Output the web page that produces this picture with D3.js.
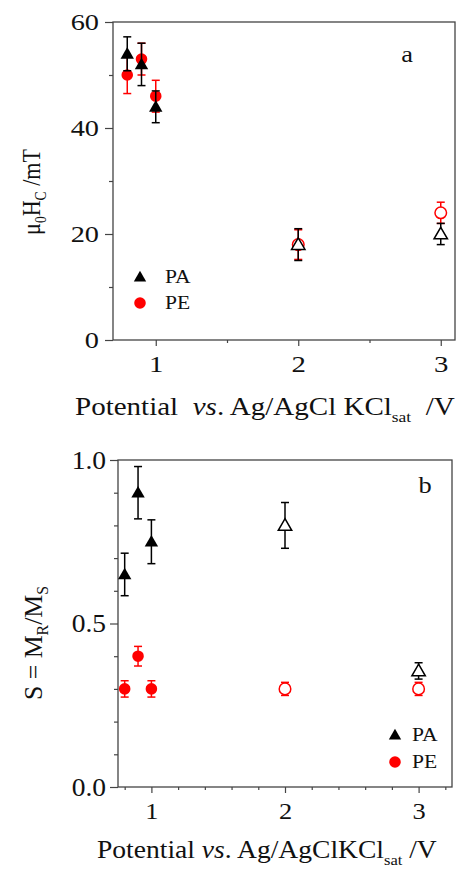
<!DOCTYPE html>
<html>
<head>
<meta charset="utf-8">
<script src="https://cdn.jsdelivr.net/npm/d3@7"></script>
<style>
  body { margin: 0; background: #fff; }
  text { font-family: "Liberation Serif", "DejaVu Serif", serif; fill: #111; white-space: pre; }
</style>
</head>
<body>
<div id="chart"></div>
<script>
// panel a : coercivity
var potA = [0.8, 0.9, 1.0, 2.0, 3.0];
var hcPA = [54, 52, 44, 18, 20];
var hcPAErr = [3.2, 4, 3, 3, 2];
var hcPE = [50, 53, 46, 18, 24];
var hcPEErr = [3.5, 3, 3, 2.8, 2];

// panel b : squareness
var potB = [0.8, 0.9, 1.0, 2.0, 3.0];
var sPA = [0.65, 0.90, 0.75, 0.80, 0.355];
var sPAErr = [0.065, 0.08, 0.067, 0.07, 0.025];
var sPE = [0.30, 0.40, 0.30, 0.30, 0.30];
var sPEErr = [0.025, 0.03, 0.025, 0.02, 0.02];

// open symbols from this potential on
var openFrom = 2.0;

var W = 457, H = 869;
var RED = '#ff0000';
var svg = d3.select('#chart').append('svg')
    .attr('width', W)
    .attr('height', H);

function drawPanel(cfg) {
    var x = d3.scaleLinear().domain(cfg.xDomain).range([cfg.left, cfg.right]);
    var y = d3.scaleLinear().domain(cfg.yDomain).range([cfg.bottom, cfg.top]);
    var g = svg.append('g');

    g.append('rect')
        .attr('x', cfg.left).attr('y', cfg.top)
        .attr('width', cfg.right - cfg.left)
        .attr('height', cfg.bottom - cfg.top)
        .attr('fill', 'none')
        .attr('stroke', '#444')
        .attr('stroke-width', 1.3);

    // minor ticks
    g.append('g')
        .attr('transform', 'translate(0,' + cfg.bottom + ')')
        .call(d3.axisBottom(x).tickValues(cfg.xMinor).tickSize(3).tickFormat(''))
        .call(function(s) { s.select('.domain').remove(); });
    g.append('g')
        .attr('transform', 'translate(' + cfg.left + ',0)')
        .call(d3.axisLeft(y).tickValues(cfg.yMinor).tickSize(4).tickFormat(''))
        .call(function(s) { s.select('.domain').remove(); });

    // major ticks
    var xa = g.append('g')
        .attr('transform', 'translate(0,' + cfg.bottom + ')')
        .call(d3.axisBottom(x).tickValues(cfg.xMajor).tickSize(6).tickFormat(d3.format('d')));
    var ya = g.append('g')
        .attr('transform', 'translate(' + cfg.left + ',0)')
        .call(d3.axisLeft(y).tickValues(cfg.yMajor).tickSize(8).tickFormat(cfg.yFormat));
    xa.select('.domain').remove();
    ya.select('.domain').remove();
    xa.selectAll('text')
        .style('font-size', cfg.xTickFont + 'px').attr('fill', '#111')
        .attr('dy', null)
        .attr('y', cfg.xTickBase - cfg.bottom)
        .attr('transform', 'scale(' + cfg.xTickSx + ',1)');
    ya.selectAll('text')
        .style('font-size', cfg.yTickFont + 'px').attr('fill', '#111')
        .attr('x', -cfg.yTickGap / cfg.yTickSx)
        .attr('transform', 'scale(' + cfg.yTickSx + ',1)');
    g.selectAll('.tick line').attr('stroke', '#444').attr('stroke-width', 1.2);

    function series(xs, ys, errs, color, shape) {
        var data = xs.map(function(v, i) { return { x: v, y: ys[i], e: errs[i] }; });
        var s = g.append('g');
        s.selectAll('line.bar').data(data).enter().append('line')
            .attr('x1', function(d) { return x(d.x); })
            .attr('x2', function(d) { return x(d.x); })
            .attr('y1', function(d) { return y(d.y - d.e); })
            .attr('y2', function(d) { return y(d.y + d.e); })
            .attr('stroke', color).attr('stroke-width', 1.5);
        [-1, 1].forEach(function(sgn) {
            s.selectAll('line.cap' + sgn).data(data).enter().append('line')
                .attr('x1', function(d) { return x(d.x) - 4; })
                .attr('x2', function(d) { return x(d.x) + 4; })
                .attr('y1', function(d) { return y(d.y + sgn * d.e); })
                .attr('y2', function(d) { return y(d.y + sgn * d.e); })
                .attr('stroke', color).attr('stroke-width', 1.5);
        });
        var sym = d3.symbol().type(shape === 'tri' ? d3.symbolTriangle : d3.symbolCircle)
            .size(shape === 'tri' ? 78 : 105);
        s.selectAll('path').data(data).enter().append('path')
            .attr('d', sym)
            .attr('transform', function(d) {
                return 'translate(' + x(d.x) + ',' + (y(d.y) + (shape === 'tri' ? 1 : 0)) + ')';
            })
            .attr('fill', function(d) { return d.x >= openFrom ? '#fff' : color; })
            .attr('stroke', color)
            .attr('stroke-width', function(d) { return d.x >= openFrom ? 1.5 : 0; });
    }
    series(cfg.xs, cfg.pe, cfg.peErr, RED, 'circ');
    series(cfg.xs, cfg.pa, cfg.paErr, '#000', 'tri');

    // legend
    var lg = g.append('g');
    lg.append('path')
        .attr('d', d3.symbol().type(d3.symbolTriangle).size(66))
        .attr('transform', 'translate(' + cfg.legX + ',' + (cfg.legY + 1) + ')')
        .attr('fill', '#000');
    lg.append('path')
        .attr('d', d3.symbol().type(d3.symbolCircle).size(105))
        .attr('transform', 'translate(' + cfg.legX + ',' + (cfg.legY + cfg.legGap) + ')')
        .attr('fill', RED);
    [['PA', 0], ['PE', cfg.legGap]].forEach(function(l) {
        lg.append('text')
            .attr('transform', 'translate(' + (cfg.legX + cfg.legText) + ',' + (cfg.legY + l[1] + 6) + ') scale(1.2,1)')
            .style('font-size', '18px').text(l[0]);
    });

    g.append('text')
        .attr('transform', 'translate(' + cfg.letterX + ',' + cfg.letterY + ') scale(1.15,1)')
        .attr('text-anchor', 'middle')
        .style('font-size', '23px').text(cfg.letter);

    return g;
}

drawPanel({
    left: 113, right: 455, top: 22, bottom: 340,
    xDomain: [0.7, 3.1], yDomain: [0, 60],
    xMajor: [1, 2, 3], xMinor: [1.5, 2.5],
    yMajor: [0, 20, 40, 60], yMinor: [10, 30, 50],
    yFormat: d3.format('d'),
    xTickFont: 24, xTickSx: 1.2, xTickBase: 372,
    yTickFont: 24, yTickSx: 1.18, yTickGap: 14,
    xs: potA, pa: hcPA, paErr: hcPAErr, pe: hcPE, peErr: hcPEErr,
    legX: 140, legY: 277, legGap: 26, legText: 25,
    letter: 'a', letterX: 407, letterY: 62
});

drawPanel({
    left: 118, right: 452, top: 460, bottom: 787,
    xDomain: [0.75, 3.25], yDomain: [0, 1],
    xMajor: [1, 2, 3], xMinor: [0.8, 1.2, 1.4, 1.6, 1.8, 2.2, 2.4, 2.6, 2.8, 3.2],
    yMajor: [0, 0.5, 1.0], yMinor: [0.1, 0.2, 0.3, 0.4, 0.6, 0.7, 0.8, 0.9],
    yFormat: d3.format('.1f'),
    xTickFont: 23, xTickSx: 1.15, xTickBase: 819,
    yTickFont: 25, yTickSx: 1.1, yTickGap: 12,
    xs: potB, pa: sPA, paErr: sPAErr, pe: sPE, peErr: sPEErr,
    legX: 395, legY: 735, legGap: 27, legText: 17,
    letter: 'b', letterX: 425, letterY: 493
});

// stretch a title horizontally so it spans the given length
function fitTitle(t, len) {
    var w = t.node().getBBox().width;
    var tr = t.attr('transform');
    t.attr('transform', tr + ' scale(' + (len / w) + ',1)');
}

var t1 = svg.append('text')
    .attr('transform', 'translate(40,192) rotate(-90)')
    .attr('text-anchor', 'middle')
    .style('font-size', '26px');
t1.append('tspan').text('\u03bc');
t1.append('tspan').attr('dy', 6).style('font-size', '16px').text('0');
t1.append('tspan').attr('dy', -6).text('H');
t1.append('tspan').attr('dy', 6).style('font-size', '16px').text('C');
t1.append('tspan').attr('dy', -6).text(' /mT');
fitTitle(t1, 86);

var x1 = svg.append('text')
    .attr('transform', 'translate(75,415)')
    .style('font-size', '25px');
x1.append('tspan').text('Potential  ');
x1.append('tspan').style('font-style', 'italic').text('vs');
x1.append('tspan').text('. Ag/AgCl KCl');
x1.append('tspan').attr('dy', 7).style('font-size', '15px').text('sat');
x1.append('tspan').attr('dy', -7).text('  /V');
fitTitle(x1, 380);

var t2 = svg.append('text')
    .attr('transform', 'translate(42,643) rotate(-90)')
    .attr('text-anchor', 'middle')
    .style('font-size', '26px');
t2.append('tspan').text('S = M');
t2.append('tspan').attr('dy', 6).style('font-size', '16px').text('R');
t2.append('tspan').attr('dy', -6).text('/M');
t2.append('tspan').attr('dy', 6).style('font-size', '16px').text('S');
fitTitle(t2, 114);

var x2 = svg.append('text')
    .attr('transform', 'translate(97,858)')
    .style('font-size', '25px');
x2.append('tspan').text('Potential ');
x2.append('tspan').style('font-style', 'italic').text('vs');
x2.append('tspan').text('. Ag/AgClKCl');
x2.append('tspan').attr('dy', 7).style('font-size', '15px').text('sat');
x2.append('tspan').attr('dy', -7).text(' /V');
fitTitle(x2, 340);
</script>
</body>
</html>
